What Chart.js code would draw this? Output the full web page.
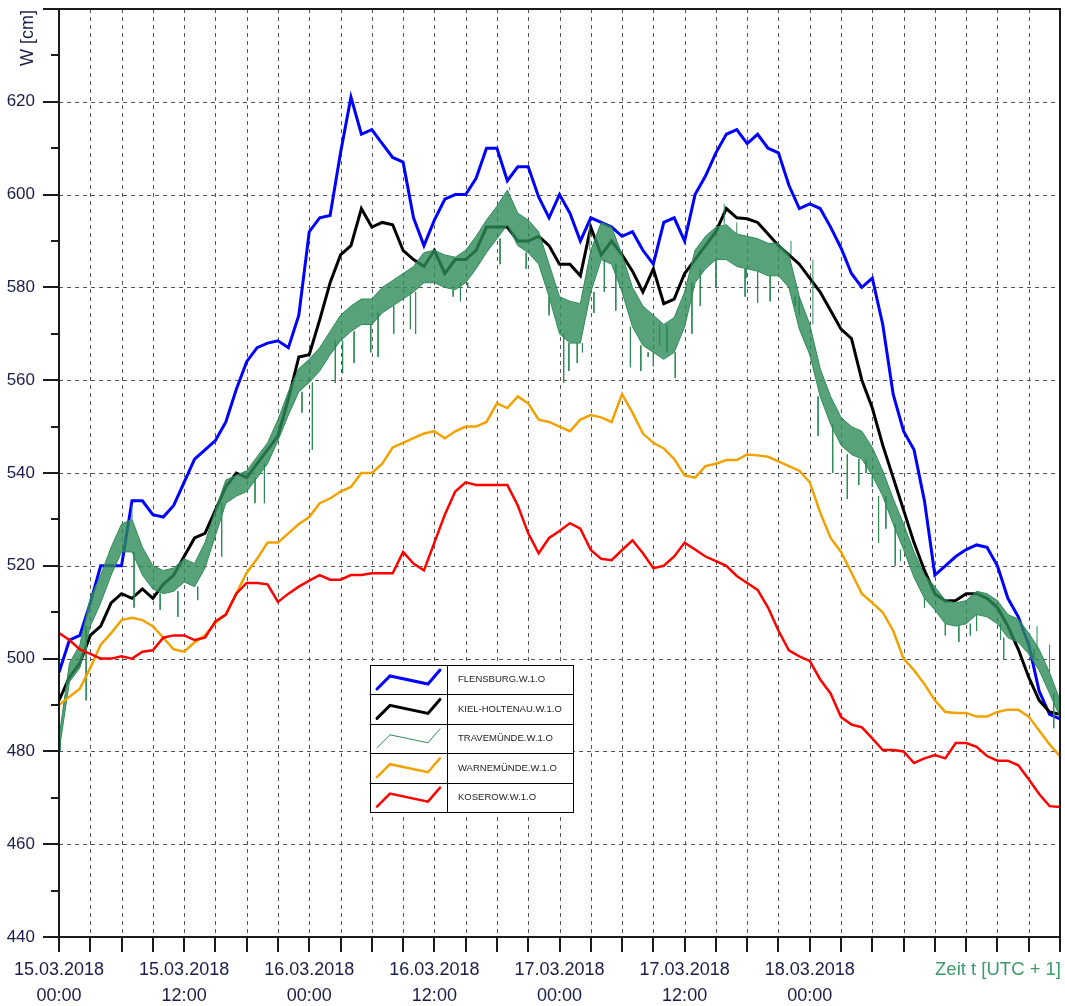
<!DOCTYPE html>
<html>
<head>
<meta charset="utf-8">
<script src="https://cdn.jsdelivr.net/npm/chart.js@4.4.1/dist/chart.umd.min.js"></script>
<style>
  html, body { margin: 0; padding: 0; background: #fff; }
</style>
</head>
<body>
<canvas id="chart" width="1065" height="1006"></canvas>
<script>
const FONT = '"Liberation Sans", Arial, sans-serif';
const TEXT = "#1c1c48";
const AXIS = "#1a1a1a";
const GRID = "#555555";
const GREEN = "#2e8b57";

// hours since 15.03.2018 00:00 (UTC+1)
const HOURS = Array.from({ length: 97 }, (_, i) => i);
const X_TICK_LABELS = [
  ["15.03.2018", "00:00"],
  ["15.03.2018", "12:00"],
  ["16.03.2018", "00:00"],
  ["16.03.2018", "12:00"],
  ["17.03.2018", "00:00"],
  ["17.03.2018", "12:00"],
  ["18.03.2018", "00:00"],
];

// water level W [cm], one value per hour
const flensburg = [
  497, 504, 505, 512, 520, 520, 520, 534, 534, 531,
  530.5, 533, 538, 543, 545, 547, 551, 558, 564, 567,
  568, 568.5, 567, 574, 592, 595, 595.5, 609, 621, 613,
  614, 611, 608, 607, 595, 589, 594.5, 599, 600, 600,
  603.5, 610, 610, 603, 606, 606, 599.5, 595, 600, 596,
  590, 595, 594, 593, 591, 592, 588, 585, 594, 595,
  590, 600, 604, 609, 613, 614, 611, 613, 610, 609,
  602, 597, 598, 597, 593, 588.5, 583, 580, 582, 572,
  557, 549, 545, 534, 518, 520, 522, 523.5, 524.5, 524,
  520, 513, 509, 503, 493, 488, 487,
];
const kielHoltenau = [
  491, 496, 499, 505, 507, 512, 514, 513, 515, 513,
  516, 518, 522, 526, 527, 532, 537, 540, 539, 542,
  545, 548, 556, 565, 565.5, 573, 581, 587, 589, 597,
  593, 594, 593.5, 588, 586, 584.5, 588, 583, 586, 586,
  588, 593, 593, 593, 590, 590, 591, 589, 585, 585,
  582.5, 593, 587, 590, 587, 583.5, 579, 584, 576.5, 577.5,
  583, 586, 589, 592, 597, 595, 594.8, 594, 591.5, 589,
  587, 585, 582, 579, 575, 571, 569, 560, 554, 546,
  539, 532, 525, 519, 514, 512.4, 512.5, 514, 514, 513,
  511, 507, 502, 496, 491, 488.5, 488,
];
// Travemünde is very noisy: upper and lower edge of the dense band per hour ...
const travemuendeUpper = [
  483, 499, 503, 513, 518, 524, 529, 530, 524, 520,
  519, 519.5, 521.5, 520.5, 525, 532, 538.5, 539.5, 540.5, 543.5,
  546.5, 551.5, 557.5, 562.5, 564.5, 567, 570.5, 574, 576, 577.5,
  577.5, 580, 581.5, 583, 584.5, 587.5, 588, 587, 586.5, 588,
  591, 594.5, 597.5, 601, 596, 594.5, 592, 585, 578, 577,
  576.5, 588, 594, 593, 587, 580, 576, 574, 572, 573.5,
  579, 588, 591, 593, 593.5, 591.5, 591, 590.5, 589.5, 589.5,
  587, 578, 572, 562.5, 556.5, 552, 550, 549, 545.5, 540.5,
  534.5, 529, 523, 518, 515.5, 512.5, 512, 512.5, 514.5, 514,
  512.5, 509.5, 508.5, 505.5, 502, 497, 491,
];
const travemuendeLower = [
  480, 495, 498, 507, 512, 518, 523, 523, 518, 515,
  514, 514.5, 516.5, 515.5, 519.5, 526.5, 533.5, 535, 536, 539,
  542, 547, 552.5, 557.5, 559.5, 562, 565.5, 568.5, 570.5, 572,
  572, 574.5, 576, 577.5, 579, 581, 581, 580, 579.5, 581,
  584, 587.5, 590.5, 593.5, 589, 587.5, 585, 578, 570, 568,
  568, 579, 586, 585, 579, 571.5, 567.5, 566, 564.5, 566,
  571.5, 581, 584, 586, 586, 584.5, 584, 583.5, 582.5, 582.5,
  580, 571, 565.5, 556.5, 550.5, 546, 544, 543, 539.5, 535,
  529, 523.5, 517.5, 513, 510.5, 507.5, 507, 507.5, 509.5, 509,
  507.5, 504.5, 503.5, 501, 497.5, 492.5, 487.5,
];
// ... and the single spikes that stick out of it (time in hours, tip value)
const spikeHours = [
  0.1, 2.6, 7.0, 7.2, 9.7, 11.4, 13.3, 15.6, 18.8, 19.7,
  23.3, 24.3, 26.5, 27.2, 28.3, 29.9, 30.6, 32.1, 33.7, 34.2,
  37.8, 38.5, 39.2, 42.3, 43.2, 44.8, 47.0, 48.4, 48.9, 49.7,
  50.2, 50.9, 51.3, 52.3, 53.4, 54.8, 55.8, 56.5, 57.0, 57.6,
  58.3, 59.1, 60.7, 61.5, 63.0, 63.8, 65.0, 65.8, 65.9, 67.0,
  68.2, 70.2, 70.6, 71.0, 72.3, 72.8, 74.2, 75.6, 76.7, 77.4,
  78.0, 78.6, 79.3, 80.2, 80.7, 83.0, 85.0, 86.3, 87.4, 88.0,
  90.3, 90.6, 93.5, 93.8, 95.0, 95.4,
];
const spikeTips = [
  480, 491, 533, 511, 510.5, 509, 512.6, 522, 533.5, 533.5,
  553, 545, 559.4, 561.5, 563.7, 566, 565, 570, 571, 570,
  578, 577, 580, 585, 601.6, 584, 574, 559.4, 562, 563.7,
  566, 594, 574.5, 579, 575, 562.8, 562, 565, 563, 567.5,
  566, 560.5, 570, 576, 580, 598, 594, 578, 582, 576.7,
  577, 590, 576, 574, 586, 548, 540, 534.4, 537.4, 540,
  537, 525, 528, 520, 521, 511, 505, 503.6, 505, 506,
  504, 499.7, 500, 507, 503, 485,
];
const warnemuende = [
  490, 491.8, 493.5, 498, 503, 505.5, 508.3, 508.8, 508.3, 507,
  504.5, 502, 501.5, 503.5, 505, 507.7, 509.5, 514, 518.5, 521.5,
  525, 525, 527, 529, 530.5, 533.5, 534.5, 536, 537, 540,
  540, 542, 545.5, 546.5, 547.5, 548.5, 549, 547.5, 549, 550,
  550, 551, 555, 554, 556.5, 555, 551.5, 551, 550, 549,
  551.5, 552.5, 552, 551, 557, 553, 548.5, 546.5, 545.3, 543,
  539.5, 539, 541.5, 542, 542.8, 542.8, 544, 543.8, 543.5, 542.5,
  541.5, 540.5, 538, 531.5, 526, 523, 518.5, 514, 512, 510,
  506, 500, 497.5, 494.5, 491, 488.5, 488.3, 488.3, 487.5, 487.5,
  488.5, 489, 489, 487.5, 484.5, 481.5, 479,
];
const koserow = [
  505.5, 504, 502, 501, 500, 500, 500.5, 500, 501.5, 501.8,
  504.5, 505, 505, 504, 504.5, 508, 509.5, 514, 516.3, 516.3,
  516, 512.2, 514, 515.5, 516.8, 518, 517, 517, 518, 518,
  518.4, 518.4, 518.4, 523, 520.5, 519, 525, 531, 536, 538,
  537.4, 537.4, 537.4, 537.4, 533, 527, 522.7, 526, 527.5, 529.2,
  528, 523.4, 521.5, 521.2, 523.4, 525.5, 522.7, 519.5, 520, 522,
  525, 523.5, 522, 521, 520, 517.8, 516.3, 514.8, 511, 506,
  501.8, 500.5, 499.5, 495.5, 492.5, 487.4, 485.8, 485.2, 482.8, 480.3,
  480.3, 480, 477.5, 478.5, 479.2, 478.5, 481.8, 481.8, 481, 479,
  478, 478, 477, 474, 470.8, 468.2, 468,
];

const toPoints = (values) => values.map((v, i) => ({ x: HOURS[i], y: v }));

// each spike is a vertical stroke from the band edge to its tip, separated by gaps
function spikePoints() {
  const pts = [];
  spikeHours.forEach((h, i) => {
    const k = Math.round(h);
    const tip = spikeTips[i];
    const base = tip < travemuendeLower[k] ? travemuendeLower[k] : travemuendeUpper[k];
    pts.push({ x: h, y: base }, { x: h, y: tip }, { x: h, y: null });
  });
  return pts;
}

// dashed grid, frame, tick marks, axis captions and the boxed legend
const chartDecor = {
  id: "chartDecor",
  beforeDatasetsDraw(chart) {
    const { ctx, chartArea: a, scales } = chart;
    ctx.save();
    ctx.strokeStyle = GRID;
    ctx.lineWidth = 1;
    ctx.setLineDash([4, 4]);
    for (let h = 3; h < 96; h += 3) {
      const px = Math.round(scales.x.getPixelForValue(h)) + 0.5;
      ctx.beginPath();
      ctx.moveTo(px, a.top);
      ctx.lineTo(px, a.bottom);
      ctx.stroke();
    }
    for (let v = 460; v < 640; v += 20) {
      const py = Math.round(scales.y.getPixelForValue(v)) + 0.5;
      ctx.beginPath();
      ctx.moveTo(a.left, py);
      ctx.lineTo(a.right, py);
      ctx.stroke();
    }
    ctx.restore();
  },
  afterDraw(chart) {
    const { ctx, chartArea: a, scales } = chart;
    ctx.save();
    ctx.strokeStyle = AXIS;
    ctx.lineWidth = 2;
    ctx.setLineDash([]);

    // y ticks: long every 20 cm, short every 10 cm
    for (let v = 440; v <= 640; v += 10) {
      const py = Math.round(scales.y.getPixelForValue(v));
      const len = v % 20 === 0 ? 16 : 8;
      ctx.beginPath();
      ctx.moveTo(a.left - len, py);
      ctx.lineTo(a.left, py);
      ctx.stroke();
    }
    // x ticks every 3 h
    for (let h = 0; h <= 96; h += 3) {
      const px = Math.round(scales.x.getPixelForValue(h));
      ctx.beginPath();
      ctx.moveTo(px, a.bottom);
      ctx.lineTo(px, a.bottom + 15);
      ctx.stroke();
    }
    // frame
    ctx.strokeRect(a.left, a.top, a.right - a.left, a.bottom - a.top);

    // axis captions
    ctx.fillStyle = TEXT;
    ctx.font = `18px ${FONT}`;
    ctx.textAlign = "center";
    ctx.textBaseline = "middle";
    ctx.save();
    ctx.translate(28, 38);
    ctx.rotate(-Math.PI / 2);
    ctx.fillText("W [cm]", 0, 0);
    ctx.restore();

    ctx.fillStyle = "#3d9b6a";
    ctx.font = `18.5px ${FONT}`;
    ctx.textAlign = "right";
    ctx.fillText("Zeit t [UTC + 1]", a.right + 1, 970);

    // legend box
    const entries = chart.data.datasets.filter((ds) => ds.inLegend);
    const lx = 370, ly = 665, colW = 77, w = 203, rowH = 29.4;
    const h = rowH * entries.length;
    ctx.fillStyle = "#fff";
    ctx.fillRect(lx, ly, w, h);
    ctx.strokeStyle = "#000";
    ctx.lineWidth = 1;
    ctx.strokeRect(lx + 0.5, ly + 0.5, w, h);
    ctx.beginPath();
    ctx.moveTo(lx + colW + 0.5, ly);
    ctx.lineTo(lx + colW + 0.5, ly + h);
    ctx.stroke();
    entries.forEach((ds, i) => {
      const top = ly + i * rowH;
      if (i > 0) {
        ctx.strokeStyle = "#000";
        ctx.lineWidth = 1;
        ctx.beginPath();
        ctx.moveTo(lx, Math.round(top) + 0.5);
        ctx.lineTo(lx + w, Math.round(top) + 0.5);
        ctx.stroke();
      }
      ctx.strokeStyle = ds.borderColor;
      ctx.lineWidth = ds.legendWidth;
      ctx.lineCap = "round";
      ctx.beginPath();
      ctx.moveTo(lx + 7, top + 24);
      ctx.lineTo(lx + 20, top + 11);
      ctx.lineTo(lx + 58, top + 19);
      ctx.lineTo(lx + 70, top + 5);
      ctx.stroke();
      ctx.fillStyle = "#222";
      ctx.font = `9.5px ${FONT}`;
      ctx.textAlign = "left";
      ctx.textBaseline = "middle";
      ctx.fillText(ds.label, lx + 88, top + rowH / 2);
    });
    ctx.restore();
  },
};

const noPadding = (s) => {
  s.paddingTop = 0;
  s.paddingBottom = 0;
  s.paddingLeft = 0;
  s.paddingRight = 0;
};

new Chart(document.getElementById("chart"), {
  type: "line",
  data: {
    datasets: [
      { label: "FLENSBURG.W.1.O", inLegend: true, legendWidth: 3, data: toPoints(flensburg), borderColor: "#0000ff", borderWidth: 3, order: 6 },
      { label: "KIEL-HOLTENAU.W.1.O", inLegend: true, legendWidth: 3, data: toPoints(kielHoltenau), borderColor: "#000000", borderWidth: 3, order: 5 },
      {
        label: "TRAVEMÜNDE.W.1.O", inLegend: true, legendWidth: 1,
        data: toPoints(travemuendeUpper), borderColor: GREEN, borderWidth: 1,
        fill: "+1", backgroundColor: "rgba(46,139,87,0.8)", order: 4,
      },
      { label: "TRAVEMÜNDE lower", data: toPoints(travemuendeLower), borderColor: GREEN, borderWidth: 1, order: 4 },
      { label: "TRAVEMÜNDE spikes", data: spikePoints(), borderColor: GREEN, borderWidth: 1, spanGaps: false, order: 3 },
      { label: "WARNEMÜNDE.W.1.O", inLegend: true, legendWidth: 2.5, data: toPoints(warnemuende), borderColor: "#f2a200", borderWidth: 2.5, order: 2 },
      { label: "KOSEROW.W.1.O", inLegend: true, legendWidth: 2.5, data: toPoints(koserow), borderColor: "#ff0000", borderWidth: 2.5, order: 1 },
    ],
  },
  options: {
    responsive: false,
    animation: false,
    layout: { padding: { top: 9, right: 5, left: 0, bottom: 0 } },
    elements: {
      line: { tension: 0, fill: false },
      point: { radius: 0, hoverRadius: 0 },
    },
    plugins: {
      legend: { display: false },
      tooltip: { enabled: false },
    },
    scales: {
      x: {
        type: "linear",
        position: "bottom",
        min: 0,
        max: 96,
        grid: { display: false, drawTicks: false },
        border: { display: false },
        ticks: {
          stepSize: 3,
          autoSkip: false,
          maxRotation: 0,
          padding: 20,
          color: TEXT,
          font: { family: FONT, size: 18, lineHeight: 1.45 },
          callback: (v) => (v % 12 === 0 && X_TICK_LABELS[v / 12] ? X_TICK_LABELS[v / 12] : ""),
        },
        afterFit: (s) => { s.height = 69; noPadding(s); },
      },
      y: {
        type: "linear",
        min: 440,
        max: 640,
        grid: { display: false, drawTicks: false },
        border: { display: false },
        ticks: {
          stepSize: 10,
          autoSkip: false,
          padding: 24,
          color: TEXT,
          font: { family: FONT, size: 17 },
          callback: (v) => (v % 20 === 0 && v !== 640 ? String(v) : ""),
        },
        afterFit: (s) => { s.width = 59; noPadding(s); },
      },
    },
  },
  plugins: [chartDecor],
});
</script>
</body>
</html>
